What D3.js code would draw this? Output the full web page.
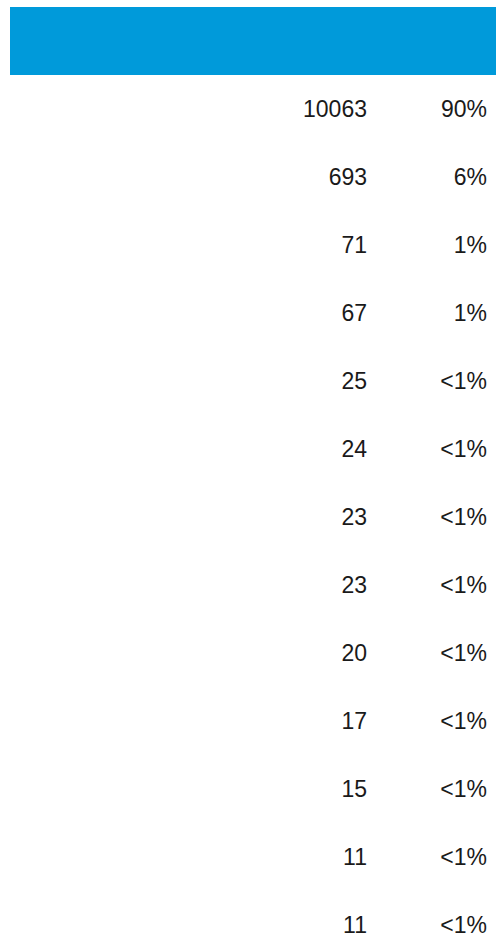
<!DOCTYPE html>
<html>
<head>
<meta charset="utf-8">
<script src="https://cdn.jsdelivr.net/npm/d3@7"></script>
<style>
  html, body { margin: 0; padding: 0; background: #fff; }
  svg { display: block; }
  .cell { font-family: "Liberation Sans", Arial, sans-serif; font-size: 23px; fill: #1a1a1a; }
</style>
</head>
<body>
<svg width="496" height="937"></svg>
<script>
'use strict'

// values
var counts = [10063, 693, 71, 67, 25, 24, 23, 23, 20, 17, 15, 11, 11];
var shares = ["90%", "6%", "1%", "1%", "<1%", "<1%", "<1%", "<1%", "<1%", "<1%", "<1%", "<1%", "<1%"];

var svg = d3.select("svg"),
  width = +svg.attr("width"),
  height = +svg.attr("height");

var header = { top: 7, left: 10, height: 68 };

var rows = counts.map(function(c, i) {
  return { index: i, count: c, share: shares[i] };
});

// baseline of each row
var y = d3.scalePoint()
  .domain(rows.map(function(d) { return d.index; }))
  .range([117, 933]);

// right edges of the two text columns
var col = d3.scaleOrdinal()
  .domain(["count", "share"])
  .range([367, 487]);

svg.append("rect")
  .attr("x", header.left)
  .attr("y", header.top)
  .attr("width", width - header.left)
  .attr("height", header.height)
  .attr("fill", "#009ada");

var row = svg.selectAll("g.row")
  .data(rows)
  .enter()
  .append("g")
  .attr("class", "row")
  .attr("transform", function(d) { return "translate(0," + y(d.index) + ")"; });

row.append("text")
  .attr("class", "cell")
  .attr("x", col("count"))
  .attr("text-anchor", "end")
  .text(function(d) { return d.count; });

row.append("text")
  .attr("class", "cell")
  .attr("x", col("share"))
  .attr("text-anchor", "end")
  .text(function(d) { return d.share; });
</script>
</body>
</html>
